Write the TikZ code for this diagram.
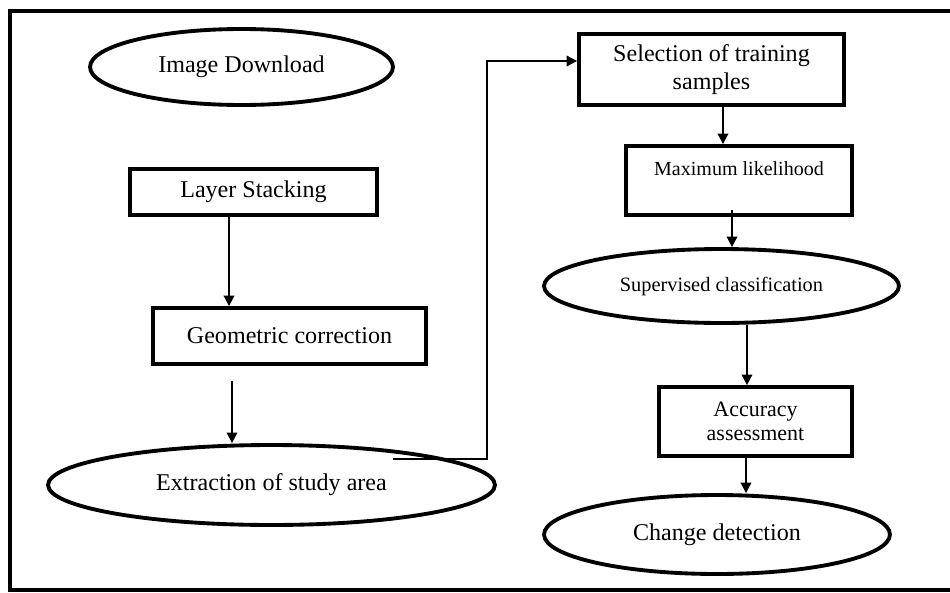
\documentclass[tikz,border=0pt]{standalone}
\usepackage{fontspec}
\setmainfont{Liberation Serif}
\usetikzlibrary{arrows.meta,shapes.geometric}
\tikzset{
  procbox/.style={draw,line width=2.2pt,rectangle,inner sep=0pt,align=center,font=\fontsize{13.7}{16.4}\selectfont},
  procoval/.style={draw,line width=2.2pt,ellipse,inner sep=0pt,font=\fontsize{13.7}{16.4}\selectfont},
  flowarrow/.style={line width=1.1pt,-{Triangle[length=6pt,width=6pt]}}
}
\begin{document}
\begin{tikzpicture}[x=0.02cm,y=-0.02cm]
\useasboundingbox (0,0) rectangle (950,592);
\draw[line width=2.2pt] (950,11)--(10,11)--(10,590)--(950,590);
% left column
\node[procoval,minimum width=6.06cm,minimum height=1.52cm] (download) at (241.5,67) {Image Download};
\node[procbox,minimum width=4.94cm,minimum height=0.92cm] (stack) at (253.5,192) {Layer Stacking};
\node[procbox,minimum width=5.46cm,minimum height=1.12cm] (geo) at (289.5,336) {Geometric correction};
\node[procoval,minimum width=8.94cm,minimum height=1.6cm] (extract) at (271.5,485) {Extraction of study area};
% right column
\node[procbox,minimum width=5.3cm,minimum height=1.42cm] (sel) at (711.5,69.5) {Selection of training\\samples};
\node[procbox,minimum width=4.52cm,minimum height=1.38cm,font=\fontsize{11.4}{13}\selectfont,text depth=14pt] (mlh) at (739,180.5) {Maximum likelihood};
\node[procoval,minimum width=7.1cm,minimum height=1.48cm,font=\fontsize{11.6}{13}\selectfont] (sup) at (721.5,286) {Supervised classification};
\node[procbox,minimum width=3.86cm,minimum height=1.38cm,font=\fontsize{12.5}{14}\selectfont] (acc) at (755.5,421.5) {Accuracy\\assessment};
\node[procoval,minimum width=6.92cm,minimum height=1.58cm] (chg) at (717,534.5) {Change detection};
% connectors
\draw[flowarrow] ([xshift=-0.49cm]stack.south) -- ([xshift=-0.49cm]stack.south |- geo.north);
\draw[flowarrow] ([xshift=-1.15cm,yshift=-0.3cm]geo.south) -- ([xshift=-1.15cm]geo.south |- extract.north);
\draw[flowarrow] ([xshift=2.43cm,yshift=0.52cm]extract.center) -- ++(1.88cm,0) |- ([yshift=0.17cm]sel.west);
\draw[flowarrow] ([xshift=0.23cm]sel.south) -- ([xshift=0.23cm]sel.south |- mlh.north);
\draw[flowarrow] ([xshift=-0.14cm,yshift=0.14cm]mlh.south) -- ([xshift=-0.14cm]mlh.south |- sup.north);
\draw[flowarrow] ([xshift=0.51cm]sup.south) -- ([xshift=0.51cm]sup.south |- acc.north);
\draw[flowarrow] ([xshift=-0.19cm]acc.south) -- ([xshift=-0.19cm]acc.south |- chg.north);
\end{tikzpicture}
\end{document}
